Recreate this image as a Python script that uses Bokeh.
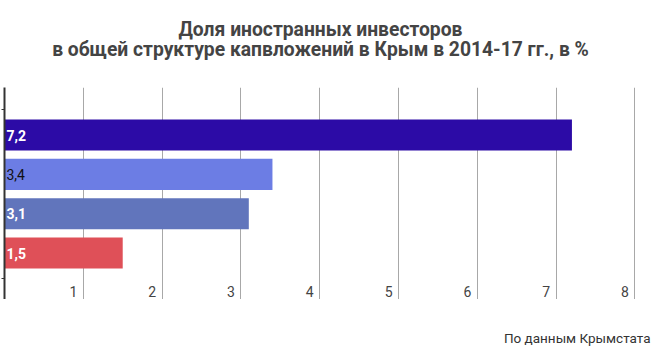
from bokeh.plotting import figure
from bokeh.layouts import column
from bokeh.models import ColumnDataSource, Range1d, FixedTicker
from bokeh.core.properties import value
from bokeh.embed import file_html
from bokeh.resources import INLINE

# data
values = [7.2, 3.4, 3.1, 1.5]
bar_colors = ["#2c0ba6", "#6c7de4", "#6175bc", "#df5058"]
label_colors = ["white", "#111111", "white", "white"]
label_styles = ["bold", "normal", "bold", "bold"]
x_ticks = [1, 2, 3, 4, 5, 6, 7, 8]
title_lines = ["Доля иностранных инвесторов",
               "в общей структуре капвложений в Крым в 2014-17 гг., в %"]
source_note = "По данным Крымстата"

pos = list(range(len(values)))
labels = [f"{v:.1f}".replace(".", ",") for v in values]

FONT = "Roboto"
W = 651


def blank(height):
    f = figure(frame_width=W, frame_height=height, output_backend="svg", toolbar_location=None,
               x_range=Range1d(0, W), y_range=Range1d(height, 0),
               min_border=0, outline_line_color=None, border_fill_color="white")
    f.axis.visible = False
    f.grid.visible = False
    return f


# header with the two-line title
head = blank(72)
head.text(x=[316, 316], y=[29, 49], text=title_lines, text_font=value(FONT),
          text_font_size="19.3px", text_font_style="bold", text_color="#444444",
          text_align="center", text_baseline="alphabetic")

# main chart
src = ColumnDataSource(dict(y=pos, v=values, color=bar_colors, lab=labels,
                            lc=label_colors, ls=label_styles, x0=[0] * len(values)))
p = figure(frame_width=636, frame_height=212, output_backend="svg", toolbar_location=None,
           x_range=Range1d(0, 8.07), y_range=Range1d(4.182, -1.208),
           min_border_left=4, min_border_right=11, min_border_top=15, min_border_bottom=0,
           outline_line_color=None, background_fill_color="white", border_fill_color="white")

p.hbar(y="y", right="v", left=0, height=0.79, color="color", source=src, line_color=None)
p.text(x="x0", y="y", text="lab", text_color="lc", text_font_style="ls", source=src,
       text_font=value(FONT), text_font_size="14px", text_baseline="middle", x_offset=2)

tick_src = ColumnDataSource(dict(x=x_ticks, y=[3.98] * len(x_ticks), t=[str(t) for t in x_ticks]))
p.text(x="x", y="y", text="t", source=tick_src, text_font=value(FONT), text_font_size="14px",
       text_color="#444444", text_align="right", text_baseline="middle", x_offset=-6)

p.xaxis.visible = False
p.xgrid.ticker = FixedTicker(ticks=x_ticks)
p.xgrid.grid_line_color = "#a8a8a8"
p.xgrid.grid_line_width = 1
p.ygrid.grid_line_color = None

p.yaxis.ticker = FixedTicker(ticks=[-0.65, 3.65])
p.yaxis.major_label_text_font_size = "0px"
p.yaxis.major_label_text_color = None
p.yaxis.axis_line_color = "#333333"
p.yaxis.axis_line_width = 2
p.yaxis.major_tick_line_color = "#333333"
p.yaxis.major_tick_out = 3
p.yaxis.major_tick_in = 0
p.yaxis.minor_tick_line_color = None

# footer with the source note
foot = blank(62)
foot.text(x=[646], y=[38], text=[source_note], text_font=value(FONT), text_font_size="13.5px",
          text_color="#333333", text_align="right", text_baseline="alphabetic")

layout = column(head, p, foot, spacing=0)
open("out.html", "w").write(file_html(layout, INLINE))
